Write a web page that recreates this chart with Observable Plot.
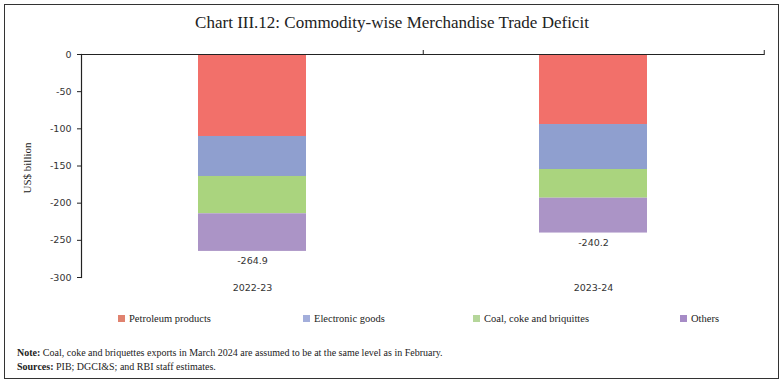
<!DOCTYPE html>
<html><head><meta charset="utf-8">
<script src="https://cdn.jsdelivr.net/npm/d3@7"></script>
<script src="https://cdn.jsdelivr.net/npm/@observablehq/plot@0.6"></script>
<style>
body{margin:0;background:#fff;}
#wrap{position:relative;width:784px;height:383px;overflow:hidden;background:#fff;}
#border{position:absolute;left:4px;top:4px;width:775px;height:375px;border:1px solid #333;box-sizing:border-box;}
#title{position:absolute;left:0;width:784px;top:13px;text-align:center;font-family:"Liberation Serif",serif;font-size:17px;color:#222;}
#ylab{position:absolute;left:27px;top:168px;transform:translate(-50%,-50%) rotate(-90deg);font-family:"Liberation Serif",serif;font-size:11px;color:#222;white-space:nowrap;}
#plot{position:absolute;left:0;top:0;}
.leg{position:absolute;top:313px;font-family:"Liberation Serif",serif;font-size:10.5px;color:#222;white-space:nowrap;}
.leg i{display:inline-block;width:7px;height:7px;margin-right:4px;vertical-align:0px;}
.note{position:absolute;left:17px;font-family:"Liberation Serif",serif;font-size:10px;color:#222;white-space:nowrap;}
</style></head>
<body>
<div id="wrap">
<div id="border"></div>
<div id="title">Chart III.12: Commodity-wise Merchandise Trade Deficit</div>
<div id="plot"></div>
<div id="ylab">US$ billion</div>
<div id="legend"></div>
<div class="note" style="top:347px"><b>Note:</b> Coal, coke and briquettes exports in March 2024 are assumed to be at the same level as in February.</div>
<div class="note" style="top:361px"><b>Sources:</b> PIB; DGCI&amp;S; and RBI staff estimates.</div>
</div>
<script>
const years = ["2022-23", "2023-24"];
const categories = ["Petroleum products", "Electronic goods", "Coal, coke and briquittes", "Others"];
const colors = ["#F2706A", "#8F9FCF", "#AAD47E", "#AB94C6"];
const legendColors = ["#E0826F", "#A3AEDB", "#B5D69A", "#A68BC6"];
const petroleum = [-110.3, -94.2];
const electronic = [-53.8, -60.5];
const coal = [-50.2, -38.6];
const others = [-50.6, -46.9];
const totals = [-264.9, -240.2];
const yTicks = [0, -50, -100, -150, -200, -250, -300];
const legendLeft = [118, 303, 473, 680];

const series = [petroleum, electronic, coal, others];
const data = [];
years.forEach((y, i) => categories.forEach((c, j) => data.push({year: y, cat: c, value: series[j][i]})));
const totalData = years.map((y, i) => ({year: y, total: totals[i]}));

const W = 784, ML = 81, MR = 20;
const step = (W - ML - MR) / years.length;

const chart = Plot.plot({
  width: W, height: 300,
  marginTop: 54, marginBottom: 23, marginLeft: ML, marginRight: MR,
  style: {fontFamily: "DejaVu Sans, sans-serif", fontSize: "9.5px", color: "#333", background: "transparent"},
  x: {domain: years, paddingInner: 0.684, paddingOuter: 0.342, label: null},
  y: {domain: [-300, 0], label: null},
  color: {domain: categories, range: colors},
  marks: [
    Plot.barY(data, {x: "year", y: "value", fill: "cat", order: categories}),
    Plot.text(totalData, {x: "year", y: "total", text: d => d.total.toFixed(1), dy: 10, fontSize: 9.5, fill: "#333"}),
    Plot.axisY({ticks: yTicks, tickSize: 4, tickPadding: 6, tickFormat: d => String(d), label: null, fontSize: 9.5, stroke: "#222"}),
    Plot.axisX({anchor: "bottom", tickSize: 0, tickPadding: 7, label: null, fontSize: 9.5}),
    Plot.axisX({anchor: "top", tickSize: 5, tickFormat: () => "", label: null, dx: step / 2, stroke: "#222"}),
    Plot.ruleY([0], {stroke: "#222", strokeWidth: 1.2}),
    Plot.frame({anchor: "left", stroke: "#222", strokeWidth: 1.2})
  ]
});
document.getElementById("plot").appendChild(chart);

const leg = document.getElementById("legend");
categories.forEach((c, i) => {
  const d = document.createElement("div");
  d.className = "leg";
  d.style.left = legendLeft[i] + "px";
  d.innerHTML = `<i style="background:${legendColors[i]}"></i>${c}`;
  leg.appendChild(d);
});
</script>
</body></html>
